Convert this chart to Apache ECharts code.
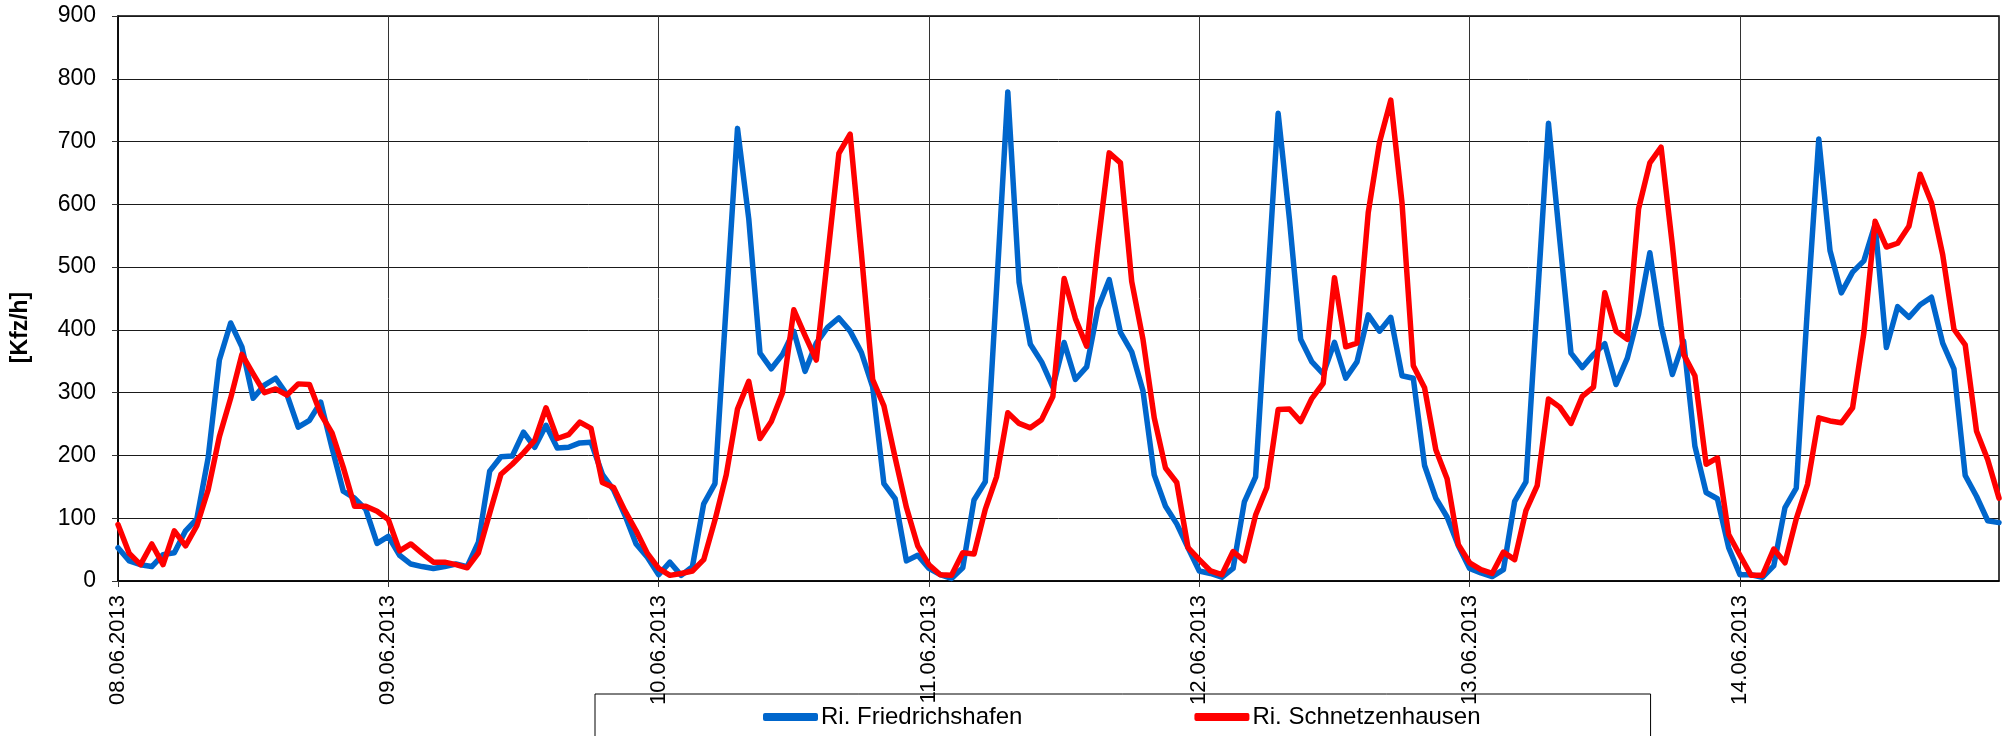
<!DOCTYPE html>
<html>
<head>
<meta charset="utf-8">
<script src="https://cdn.jsdelivr.net/npm/echarts@6/dist/echarts.min.js"></script>
<style>
html,body{margin:0;padding:0;background:#fff;}
#c{width:2003px;height:736px;}
</style>
</head>
<body>
<div id="c"></div>
<script>
const days = ['08.06.2013','09.06.2013','10.06.2013','11.06.2013','12.06.2013','13.06.2013','14.06.2013'];
const seriesNames = ['Ri. Friedrichshafen','Ri. Schnetzenhausen'];
const yTicks = [0,100,200,300,400,500,600,700,800,900];

const friedrichshafen = [
  53, 32, 26, 23, 42, 45, 80, 99, 196, 352, 411, 373, 291, 312, 323, 297, 245, 256, 285, 212, 143, 132, 114, 60,
  71, 41, 27, 23, 20, 23, 27, 23, 62, 175, 198, 199, 237, 213, 248, 212, 213, 220, 221, 170, 145, 105, 59, 38,
  10, 30, 9, 23, 123, 155, 440, 721, 577, 363, 338, 361, 398, 334, 379, 404, 419, 398, 364, 309, 155, 131, 32, 41,
  20, 10, 4, 21, 129, 158, 465, 779, 476, 377, 349, 309, 380, 321, 341, 434, 480, 396, 365, 303, 169, 119, 91, 53,
  16, 12, 6, 20, 126, 166, 455, 745, 577, 385, 349, 330, 380, 323, 349, 424, 398, 420, 327, 323, 184, 132, 102, 56,
  20, 13, 7, 18, 127, 158, 443, 729, 544, 363, 340, 361, 378, 313, 355, 425, 523, 407, 329, 382, 215, 141, 131, 53,
  10, 10, 6, 24, 117, 148, 437, 704, 526, 459, 492, 510, 568, 372, 437, 420, 440, 452, 379, 338, 168, 135, 96, 93
];
const schnetzenhausen = [
  90, 44, 26, 59, 26, 80, 56, 88, 145, 230, 291, 361, 330, 300, 306, 296, 314, 313, 266, 236, 181, 119, 119, 111,
  98, 48, 59, 44, 30, 30, 26, 21, 45, 108, 170, 186, 204, 224, 276, 227, 233, 253, 243, 157, 149, 112, 80, 44,
  20, 9, 12, 16, 34, 97, 169, 274, 318, 227, 254, 300, 432, 391, 352, 516, 681, 712, 522, 321, 279, 196, 117, 56,
  26, 10, 9, 45, 43, 114, 166, 268, 251, 244, 257, 294, 482, 418, 374, 535, 682, 666, 477, 385, 260, 180, 157, 53,
  34, 16, 10, 47, 32, 105, 149, 273, 274, 254, 291, 315, 483, 373, 379, 587, 699, 766, 602, 343, 308, 209, 163, 58,
  29, 18, 12, 46, 34, 112, 152, 290, 277, 251, 294, 309, 459, 398, 385, 593, 666, 691, 535, 361, 327, 186, 196, 74,
  41, 9, 9, 51, 29, 99, 154, 260, 255, 252, 276, 395, 573, 532, 538, 565, 648, 603, 520, 401, 376, 239, 193, 132
];

const categories = [];
days.forEach(d => { for (let h = 0; h < 24; h++) categories.push(d + ' ' + h + ':00'); });
const dayStart = (i) => i % 24 === 0;

const FONT = '"Liberation Sans", Arial, sans-serif';
const chart = echarts.init(document.getElementById('c'), null, {renderer: 'canvas'});
chart.setOption({
  animation: false,
  backgroundColor: '#ffffff',
  textStyle: {fontFamily: FONT, color: '#000'},
  grid: {left: 118, right: 4, top: 16, bottom: 155, containLabel: false,
         show: true, borderColor: '#000', borderWidth: 1.5},
  legend: {
    data: seriesNames,
    left: 595, top: 694,
    orient: 'horizontal',
    padding: [11, 170, 40, 168],
    itemGap: 172,
    itemWidth: 55, itemHeight: 8,
    icon: 'roundRect',
    borderColor: '#000', borderWidth: 1,
    textStyle: {fontFamily: FONT, fontSize: 24, color: '#000', padding: [0,0,0,-2]}
  },
  xAxis: {
    type: 'category',
    data: categories,
    boundaryGap: false,
    axisLine: {show: true, onZero: false, lineStyle: {color: '#000', width: 1.5}},
    axisTick: {show: true, inside: false, length: 6, interval: (i) => dayStart(i), lineStyle: {color: '#333'}},
    axisLabel: {
      interval: (i) => dayStart(i),
      rotate: 90, margin: 14,
      fontFamily: FONT, fontSize: 22, color: '#000',
      formatter: (v) => v.split(' ')[0]
    },
    splitLine: {show: true, interval: (i) => dayStart(i), lineStyle: {color: '#333', width: 1}}
  },
  yAxis: {
    type: 'value',
    min: yTicks[0], max: yTicks[yTicks.length - 1], interval: 100,
    name: '[Kfz/h]',
    nameLocation: 'middle',
    nameGap: 86,
    nameRotate: 90,
    nameTextStyle: {fontFamily: FONT, fontSize: 23, fontWeight: 'bold', color: '#000', padding: [0, 58, 0, 0]},
    axisLine: {show: true, lineStyle: {color: '#000', width: 1.5}},
    axisTick: {show: true, inside: false, length: 6, lineStyle: {color: '#333'}},
    axisLabel: {margin: 22, fontFamily: FONT, fontSize: 23, color: '#000'},
    splitLine: {show: true, lineStyle: {color: '#1a1a1a', width: 1}}
  },
  series: [
    {
      name: seriesNames[0], type: 'line', data: friedrichshafen,
      showSymbol: false, symbol: 'none',
      lineStyle: {color: '#0066CC', width: 5.5, cap: 'round', join: 'round'},
      itemStyle: {color: '#0066CC'}, z: 2
    },
    {
      name: seriesNames[1], type: 'line', data: schnetzenhausen,
      showSymbol: false, symbol: 'none',
      lineStyle: {color: '#FF0000', width: 5.5, cap: 'round', join: 'round'},
      itemStyle: {color: '#FF0000'}, z: 3
    }
  ]
});
</script>
</body>
</html>
